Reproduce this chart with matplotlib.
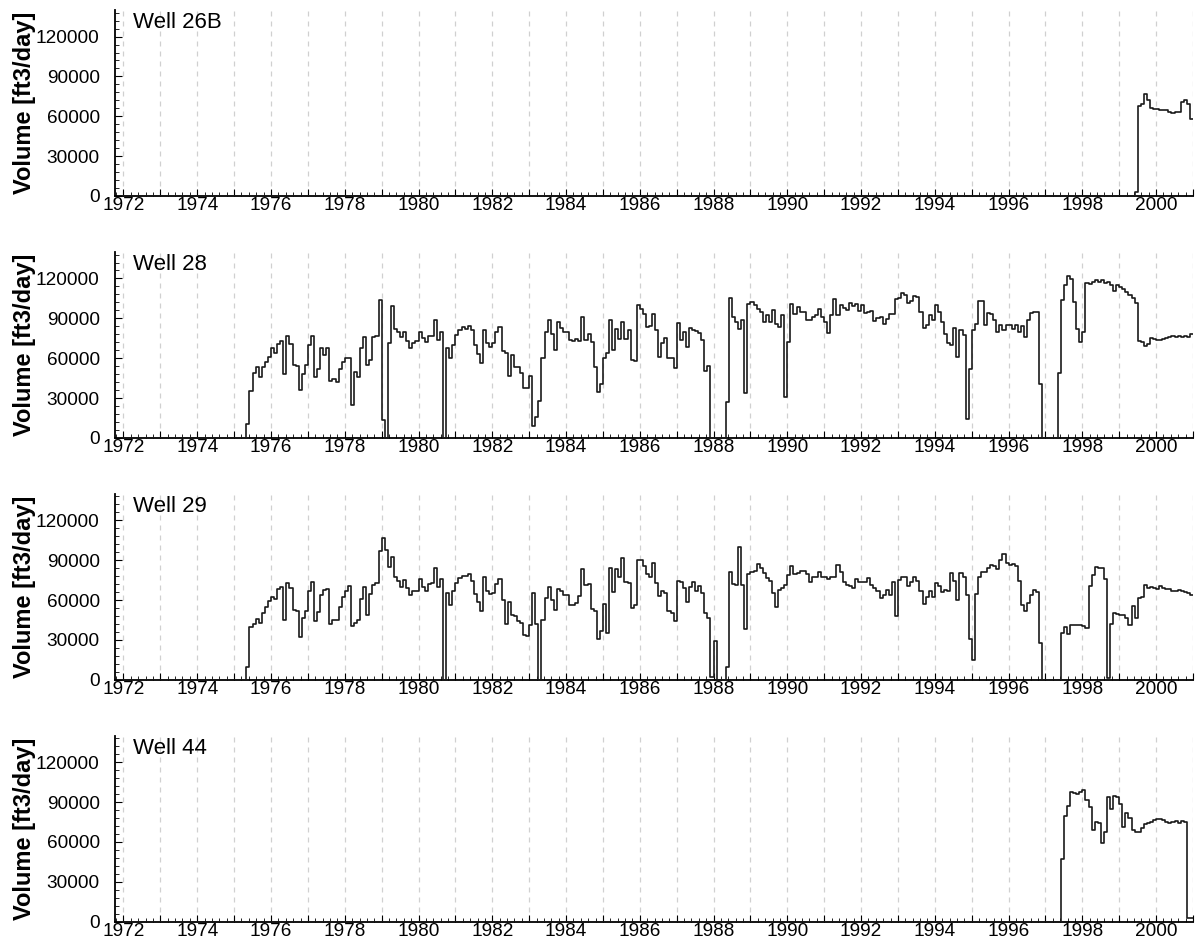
import numpy as np
import matplotlib
matplotlib.use("Agg")
import matplotlib.pyplot as plt
from matplotlib.ticker import MultipleLocator, FuncFormatter

plt.rcParams["font.family"] = ["Liberation Sans", "DejaVu Sans"]

# Monthly pumping volume [ft3/day]; each list starts in January of its start year,
# months before that are zero.
first_year = 1972
last_year = 2001

well_names = ["Well 26B", "Well 28", "Well 29", "Well 44"]

well_26b_start = 1999
well_26b = [
    0, 0, 0, 0, 0, 3250, 67500, 69000, 77000, 72500, 66500, 65500,
    65250, 65000, 64500, 64500, 63000, 62500, 63000, 63000, 70750, 72000, 69500, 58250,
]

well_28_start = 1975
well_28 = [
    0, 0, 0, 0, 10500, 35000, 48750, 53000, 45500, 53000, 57000, 60750,
    67500, 63750, 71000, 73000, 48000, 77000, 71000, 55000, 54000, 36250, 48000, 55000,
    70000, 77000, 46000, 51750, 68000, 62500, 68000, 43000, 44000, 42000, 51750, 57500,
    60500, 60500, 25000, 49500, 46000, 68000, 76000, 54500, 58750, 75750, 76750, 103750,
    13750, 0, 71750, 99250, 82000, 80000, 75750, 80000, 73000, 67500, 71250, 73000,
    80000, 75000, 72000, 76750, 76750, 88750, 73750, 80000, 0, 68000, 60000, 70000,
    77500, 81250, 83750, 82000, 84250, 81250, 70000, 63250, 56500, 81500, 71500, 68500,
    71500, 79750, 83500, 65500, 64250, 46500, 62250, 53000, 53000, 49000, 37750, 37750,
    46500, 9000, 16000, 27750, 60500, 79750, 89000, 78500, 66000, 87000, 83000, 79750,
    79750, 73500, 72750, 74250, 72750, 91000, 74000, 78500, 72250, 53500, 34250, 40500,
    60500, 64000, 89000, 66000, 82250, 74750, 87250, 74750, 81000, 58500, 58000, 99750,
    97250, 93500, 83500, 84000, 93500, 81500, 61000, 71500, 75500, 60500, 60500, 52250,
    86500, 73500, 79750, 68500, 83000, 81500, 80500, 79000, 74000, 50500, 54000, 0,
    0, 0, 0, 0, 27000, 105500, 91000, 87250, 82250, 89000, 34000, 101000,
    102250, 99750, 97250, 94750, 87250, 92250, 87250, 96500, 85500, 83500, 92250, 30500,
    72250, 101000, 93500, 98500, 94750, 94750, 89000, 89000, 91000, 92250, 97250, 91000,
    87250, 79000, 92250, 104750, 92250, 100250, 98000, 96500, 101750, 99000, 101000, 95500,
    100250, 94000, 94750, 95500, 88000, 90500, 91000, 85500, 89750, 93500, 93500, 104250,
    105500, 109000, 107250, 101750, 103000, 106750, 106000, 94750, 83000, 84750, 92250, 88500,
    99750, 94750, 87250, 78500, 71500, 69750, 83000, 61000, 81500, 77750, 14000, 51500,
    81500, 86000, 102750, 102750, 84750, 94000, 93500, 88500, 79750, 84750, 81500, 84750,
    84750, 82250, 84750, 79750, 84000, 76000, 89000, 94000, 94750, 94750, 40500, 0,
    0, 0, 0, 0, 49000, 103500, 114750, 121500, 119750, 102250, 82250, 72250,
    79750, 116500, 116000, 117250, 118500, 117250, 119000, 116500, 117250, 114750, 110500, 114750,
    113500, 112250, 109750, 107250, 105500, 101500, 73000, 72250, 69000, 71000, 75500, 74750,
    74000, 74000, 74750, 75500, 76000, 76500, 76000, 76500, 76000, 76500, 76000, 78000,
]

well_29_start = 1975
well_29 = [
    0, 0, 0, 0, 10000, 39500, 42250, 46000, 42750, 50250, 54750, 59000,
    62000, 61000, 68500, 70000, 45250, 72750, 69000, 52750, 51500, 32000, 46500, 51500,
    66500, 73500, 44500, 51000, 63500, 67750, 68500, 42000, 45000, 45000, 54500, 62000,
    66500, 70750, 40250, 42750, 45250, 61000, 70000, 49000, 64500, 71000, 72750, 97000,
    106500, 97750, 85250, 92750, 77000, 74500, 69500, 75250, 69000, 63500, 67000, 66500,
    75750, 69500, 67000, 72000, 72750, 84500, 69500, 76000, 0, 65250, 56500, 66500,
    72750, 76500, 78000, 78500, 79500, 74500, 64500, 58500, 51500, 77750, 66500, 64500,
    65250, 72000, 76000, 60250, 42000, 58500, 48500, 47750, 44500, 42750, 33500, 33250,
    41000, 65250, 42000, 0, 45250, 61500, 69500, 60250, 52750, 68250, 66500, 63500,
    63500, 56500, 56500, 57750, 62750, 83500, 71500, 72000, 53250, 51500, 30750, 36500,
    57000, 35250, 84500, 66000, 83250, 77000, 92000, 73500, 72750, 54000, 56000, 90250,
    90250, 86000, 79500, 77750, 87750, 72750, 62750, 66500, 65250, 51500, 50250, 44000,
    74500, 73500, 69000, 58250, 69500, 73500, 67000, 70250, 65250, 50250, 46500, 2000,
    29500, 0, 0, 0, 9500, 81000, 72000, 71000, 100250, 71000, 38500, 79500,
    81000, 82000, 87000, 84000, 80250, 76500, 74500, 65250, 54500, 67750, 69000, 71000,
    79000, 85750, 79500, 80250, 82000, 82000, 79500, 73500, 77750, 77750, 81500, 77000,
    77000, 76000, 77750, 77000, 86500, 81000, 73500, 71500, 70250, 69000, 76000, 73500,
    73500, 73500, 76500, 71000, 69000, 66500, 61500, 64000, 67750, 64000, 73500, 47750,
    75250, 77000, 77750, 70250, 73500, 77750, 74000, 66500, 57000, 62000, 67000, 62000,
    72750, 70250, 66000, 67750, 66500, 80250, 74000, 60250, 80250, 77000, 64000, 30750,
    15250, 64500, 77750, 81000, 81500, 84000, 86500, 86000, 83500, 90250, 94500, 87750,
    86500, 87000, 86000, 74500, 56500, 51500, 57750, 63500, 67750, 66000, 27750, 0,
    0, 0, 0, 0, 0, 35250, 39500, 34500, 41500, 41500, 41000, 41000,
    40250, 39000, 70250, 79000, 85250, 84500, 84000, 75750, 1500, 42000, 50250, 49500,
    49000, 49000, 46500, 41000, 55250, 46500, 61500, 62250, 71000, 69000, 69500, 69000,
    68500, 70250, 69000, 68500, 68500, 67000, 66500, 67750, 66500, 66000, 65500, 64000,
]

well_44_start = 1997
well_44 = [
    0, 0, 0, 0, 0, 46900, 79500, 87100, 97900, 97100, 96400, 97900,
    98900, 91600, 86100, 69000, 75300, 74000, 59500, 67300, 94100, 84800, 94900, 93600,
    88600, 71500, 81600, 77800, 69000, 67800, 67800, 70800, 73300, 74000, 75300, 76600,
    77100, 77100, 76600, 75300, 74000, 74800, 76100, 74000, 75800, 75300, 2500, 2500,
]

well_starts = [well_26b_start, well_28_start, well_29_start, well_44_start]
well_values = [well_26b, well_28, well_29, well_44]


def monthly_steps(start_year, values):
    # pad with zeros back to the first year, add one closing edge for the step line
    lead = np.zeros((start_year - first_year) * 12)
    v = np.concatenate([lead, np.asarray(values, dtype=float)])
    t = first_year + np.arange(len(v) + 1) / 12.0
    return t, np.append(v, v[-1])


fig = plt.figure(figsize=(11.97, 9.46), dpi=100)
W, H = 1197.0, 946.0
left_px, right_px = 115.0, 1193.0
axis_h = 186.0

for i, (name, start, vals) in enumerate(zip(well_names, well_starts, well_values)):
    bottom_px = 196.0 + 241.9 * i
    ax = fig.add_axes([left_px / W, 1 - bottom_px / H,
                       (right_px - left_px) / W, axis_h / H])
    t, v = monthly_steps(start, vals)
    ax.step(t, v, where="post", color="#1a1a1a", lw=1.2, zorder=3)

    ax.set_xlim(1971.77, last_year)
    ax.set_ylim(0, 140000)

    ax.xaxis.set_major_locator(MultipleLocator(1))
    ax.xaxis.set_minor_locator(MultipleLocator(0.2))
    ax.xaxis.set_major_formatter(
        FuncFormatter(lambda x, pos: f"{int(round(x))}" if round(x) % 2 == 0 else ""))
    ax.yaxis.set_major_locator(MultipleLocator(30000))
    ax.yaxis.set_minor_locator(MultipleLocator(6000))

    ax.grid(axis="x", which="major", color="#d0d0d0", linestyle=(0, (4, 4)), lw=0.9)
    ax.set_axisbelow(True)

    for side in ("top", "right"):
        ax.spines[side].set_visible(False)
    for side in ("left", "bottom"):
        ax.spines[side].set_linewidth(1.3)

    ax.tick_params(axis="both", which="both", direction="in", labelsize=13.7)
    ax.tick_params(axis="x", which="major", length=5, pad=1)
    ax.tick_params(axis="x", which="minor", length=3)
    ax.tick_params(axis="y", which="major", length=5, pad=11)
    ax.tick_params(axis="y", which="minor", length=3)

    ax.set_ylabel("Volume [ft3/day]", fontsize=17, fontweight="bold")
    ax.yaxis.set_label_coords(-0.073, 0.5)

    ax.text(0.017, 0.99, name, transform=ax.transAxes, fontsize=16,
            ha="left", va="top")

fig.savefig("out.png", dpi=100)
